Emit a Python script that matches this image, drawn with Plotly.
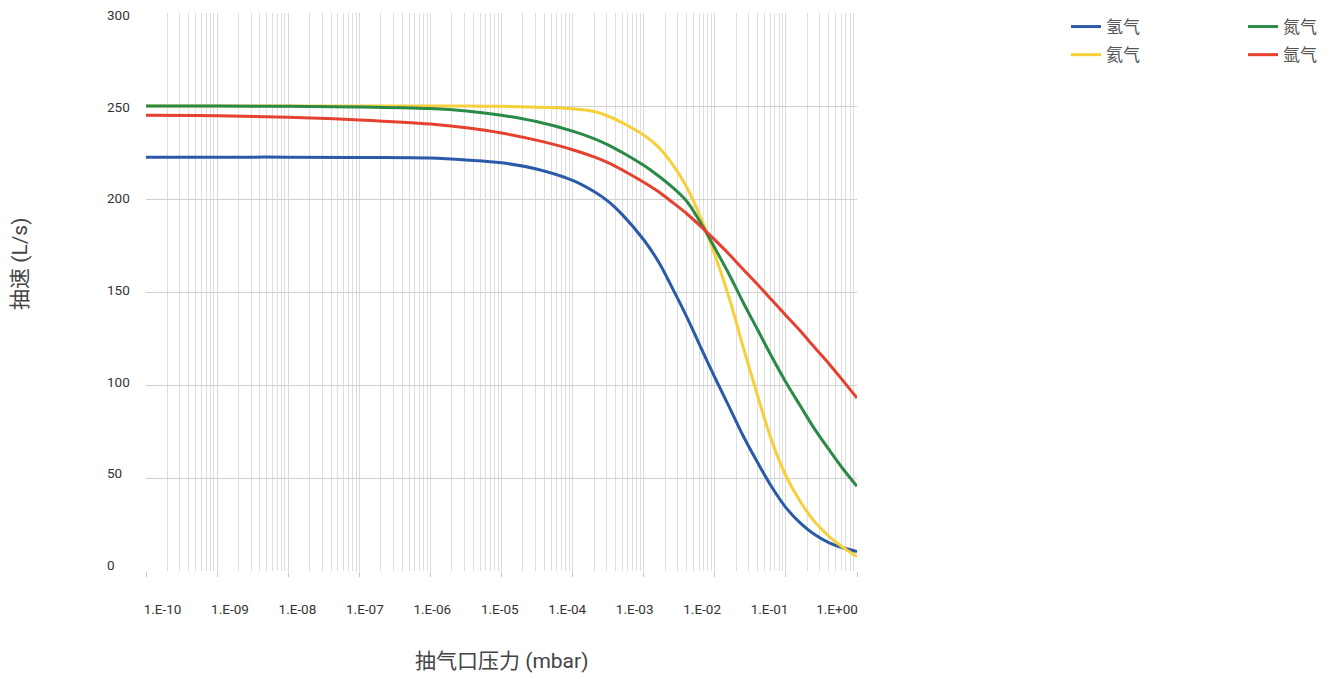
import plotly.graph_objects as go

# ---------------- data ----------------
pressure_mbar = [1e-10, 1e-9, 1e-8, 1e-7, 1e-6, 3.2e-6, 1e-5, 3.2e-5, 1e-4, 2e-4,
                 3.2e-4, 5e-4, 1e-3, 1.6e-3, 2.5e-3, 4e-3, 6.3e-3, 1e-2, 1.6e-2,
                 2.5e-2, 4e-2, 6.3e-2, 1e-1, 1.6e-1, 2.5e-1, 4e-1, 6.3e-1, 1.0]

speed_h2 = [222.5, 222.5, 222.5, 222.3, 222.0, 221.0, 219.5, 216.0, 210.0, 204.0,
            198.6, 191.6, 178.1, 166.5, 152.5, 136.9, 120.5, 104.1, 88.1,
            72.7, 58.3, 45.3, 34.1, 25.7, 19.7, 15.3, 12.5, 10.5]
speed_he = [250.0, 250.0, 250.0, 250.0, 250.0, 250.0, 249.8, 249.3, 248.5, 247.0,
            244.5, 241.0, 234.4, 228.0, 219.0, 206.6, 190.2, 170.2, 146.6,
            120.6, 94.2, 70.2, 51.2, 37.2, 26.8, 18.8, 12.8, 7.8]
speed_n2 = [250.0, 250.0, 249.8, 249.5, 248.6, 247.3, 245.0, 241.5, 236.5, 232.5,
            229.0, 225.0, 218.1, 212.5, 206.5, 198.9, 187.3, 173.7, 159.3,
            144.5, 129.7, 115.3, 101.5, 88.7, 76.7, 65.5, 55.1, 45.5]
speed_ar = [245.0, 244.8, 244.0, 242.5, 240.3, 238.3, 235.5, 231.5, 226.5, 222.6,
            219.4, 215.6, 209.0, 204.0, 198.4, 192.2, 185.4, 178.0, 170.2,
            162.2, 154.0, 145.8, 137.4, 129.0, 120.4, 111.6, 102.5, 93.0]

series_names = ["氢气", "氦气", "氮气", "氩气"]
decade_exponents = [-10, -9, -8, -7, -6, -5, -4, -3, -2, -1, 0]
x_tick_labels = ["1.E-10", "1.E-09", "1.E-08", "1.E-07", "1.E-06", "1.E-05",
                 "1.E-04", "1.E-03", "1.E-02", "1.E-01", "1.E+00"]
y_tick_values = [0, 50, 100, 150, 200, 250, 300]

x_title = "抽气口压力 (mbar)"
y_title = "抽速 (L/s)"

# ---------------- styling ----------------
FONT = "Roboto, 'Noto Sans CJK SC', sans-serif"
colors = ["#2b5aa8", "#f7cf3a", "#2a8a47", "#e5412f"]
legends = ["legend", "legend", "legend2", "legend2"]
all_series = [speed_h2, speed_he, speed_n2, speed_ar]

W, H = 1334, 679
# plot area in window pixels
PL, PR, PT, PB = 146, 857, 13, 571
ML, MT = PL, PT
MR, MB = W - PR, H - PB
pw, ph = PR - PL, PB - PT


def px_x(xw):
    return (xw - PL) / pw


def px_y(yw):
    return (PB - yw) / ph


fig = go.Figure()
for name, ys, col, lg in zip(series_names, all_series, colors, legends):
    fig.add_trace(go.Scatter(
        x=pressure_mbar, y=ys, name=name, mode="lines",
        line=dict(color=col, width=3, shape="spline", smoothing=1.0),
        legend=lg, legendgroup=name, hoverinfo="x+y+name",
    ))

decade_vals = [10.0 ** e for e in decade_exponents]
minor_vals = [k * 10.0 ** e for e in decade_exponents[:-1] for k in range(2, 10)]

legend_font = dict(size=17, color="#555555", family=FONT)
fig.update_layout(
    width=W, height=H,
    margin=dict(l=ML, r=MR, t=MT, b=MB, pad=0, autoexpand=False),
    paper_bgcolor="white", plot_bgcolor="white",
    font=dict(family=FONT, color="#333333", size=12),
    showlegend=True,
    legend=dict(x=px_x(1066), y=px_y(9), xanchor="left", yanchor="top",
                font=legend_font, bgcolor="rgba(0,0,0,0)", tracegroupgap=3),
    legend2=dict(x=px_x(1243), y=px_y(9), xanchor="left", yanchor="top",
                 font=legend_font, bgcolor="rgba(0,0,0,0)", tracegroupgap=3),
    xaxis=dict(
        type="log", range=[-10, 0],
        tickmode="array", tickvals=decade_vals, showticklabels=False,
        ticks="outside", ticklen=5, tickcolor="#c8c8c8", tickwidth=1,
        showgrid=True, gridcolor="#d9d9d9", gridwidth=1,
        minor=dict(tickmode="array", tickvals=minor_vals, showgrid=True,
                   gridcolor="#dedede", gridwidth=1, ticks=""),
        showline=False, zeroline=False,
    ),
    xaxis2=dict(
        overlaying="x", anchor="y", side="bottom",
        range=[-10.245, 0.296],
        tickmode="array", tickvals=decade_exponents, ticktext=x_tick_labels,
        ticks="", showgrid=False, zeroline=False, showline=False,
        tickfont=dict(size=13.5, color="#333333", family=FONT),
        ticklabelstandoff=28,
    ),
    yaxis=dict(
        range=[0, 300], tickmode="array", tickvals=y_tick_values,
        showticklabels=False, ticks="",
        showgrid=True, gridcolor="#d0d0d0", gridwidth=1,
        zeroline=False, showline=False,
    ),
)

# invisible helper so xaxis2 is rendered
fig.add_trace(go.Scatter(x=[decade_exponents[0], decade_exponents[-1]], y=[None, None],
                         xaxis="x2", yaxis="y", showlegend=False, hoverinfo="skip"))

annotations = []
for v in y_tick_values:
    annotations.append(dict(
        x=px_x(105), xref="paper", y=v, yref="y",
        xanchor="left", yanchor="middle", showarrow=False,
        text=str(v), font=dict(size=13.5, color="#333333", family=FONT),
        yshift=6 - v * 8 / 300,
    ))
annotations.append(dict(
    x=0.5, xref="paper", y=px_y(661), yref="paper",
    xanchor="center", yanchor="middle", showarrow=False,
    text=x_title, font=dict(size=21, color="#444444", family=FONT),
))
annotations.append(dict(
    x=px_x(20), xref="paper", y=px_y(264), yref="paper",
    xanchor="center", yanchor="middle", showarrow=False, textangle=-90,
    text=y_title, font=dict(size=21, color="#444444", family=FONT),
))
fig.update_layout(annotations=annotations)

fig.write_html(
    "out.html",
    config={"displayModeBar": False},
    post_script="document.body.style.margin='0';document.body.style.overflow='hidden';",
)
